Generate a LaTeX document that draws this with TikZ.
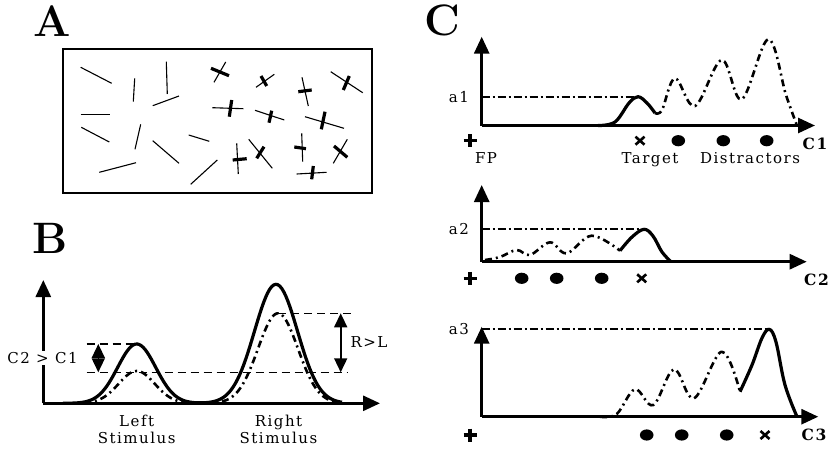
\documentclass[tikz,border=0pt]{standalone}
\usepackage{fontspec}
\newfontfamily\lblfont[LetterSpace=10]{DejaVu Serif}
\usetikzlibrary{arrows.meta, calc}
\definecolor{ink}{HTML}{000000}
\tikzset{
  axis/.style={line width=2.8pt, color=ink, -{Triangle[length=17pt,width=15pt]}},
  bar/.style={line width=1.1pt, color=ink},
  crossbar/.style={line width=3.2pt, color=ink},
  peak/.style={line width=3.2pt, color=ink, line join=round},
  rival/.style={line width=2.6pt, color=ink, dash pattern=on 7pt off 4pt on 2pt off 4pt, line join=round},
  guide/.style={line width=1.2pt, color=ink, dash pattern=on 8pt off 5pt},
  level/.style={line width=1.8pt, color=ink, dash pattern=on 8pt off 3pt on 2pt off 3pt},
  span/.style={line width=1.6pt, color=ink, {Triangle[length=14pt,width=13pt]}-{Triangle[length=14pt,width=13pt]}},
  lbl/.style={font=\lblfont\fontsize{15}{16.5}\selectfont, inner sep=0pt, align=center},
  axlbl/.style={font=\lblfont\bfseries\fontsize{15.5}{16}\selectfont, inner sep=0pt},
  panel/.style={font=\bfseries\fontsize{44}{44}\selectfont, inner sep=0pt, anchor=base},
}
\newcommand\fixmark[1]{\draw[line width=3.4pt] ($(#1)+(-6.5,0)$) -- ($(#1)+(6.5,0)$) ($(#1)+(0,-6.5)$) -- ($(#1)+(0,6.5)$);}
\newcommand\targmark[1]{\draw[line width=2.6pt] ($(#1)+(-4.5,-4)$) -- ($(#1)+(4.5,4)$) ($(#1)+(-4.5,4)$) -- ($(#1)+(4.5,-4)$);}
\newcommand\distmark[1]{\fill (#1) ellipse (6.8 and 5.6);}

\begin{document}
\begin{tikzpicture}[x=1pt,y=-1pt]
\useasboundingbox (0,0) rectangle (831,448);
% panel A
\node[panel] (pa) at (52.2,36) {A};
\draw[line width=1.3pt] (63,49) rectangle (372,193);
\foreach \ax/\ay/\bx/\by in {80.7/67.3/111.7/83.3, 134.7/78.3/133.3/101.7, 166.3/61.7/167.3/94,
  152.7/105.7/179/96, 80.7/114.3/110/114.3, 81.3/127.3/109.3/142, 140.7/124.3/135/149.3,
  152.7/140.7/179/163.3, 188.7/135/209.3/141.3, 99.3/172.3/136/162.7, 190.7/184.3/217.3/160}
  \draw[bar] (\ax,\ay) -- (\bx,\by);
\foreach \ax/\ay/\bx/\by/\cx/\cy/\dx/\dy in {
  214/82.3/225.7/62/211/68.3/229/75.7, 256/87.3/274.3/74.3/261/76/266.7/86,
  302/77.3/308.3/106/298.3/91.7/311.7/90, 330.7/71.7/362.7/92.7/349.3/76/343.3/90,
  212.3/107.7/243.3/108.7/231.7/100/229.3/116.7, 255/110.3/284.3/120/271.7/110.7/269/122.7,
  305/116.7/344/128.3/325/111.7/321.3/129.3, 236.7/143.3/238.3/174/232.7/160/246.7/158.7,
  248.7/139.3/272.3/168.3/264/146.7/256.7/158.3, 301.7/133.3/302.7/161.7/294.3/147/306/148.7,
  347.3/139.3/333.3/163.3/334/146/347.3/157.3, 296.7/174/326.7/172.3/313.3/166/311.7/179.3}
  {\draw[bar] (\ax,\ay) -- (\bx,\by);
   \draw[crossbar] (\cx,\cy) -- (\dx,\dy);}
% panel B
\node[panel] (pb) at (50,253.3) {B};
\coordinate (ob) at (43.3,403.3);
\draw[axis] (ob) -- (43.3,280);
\draw[axis] (ob) -- (380,403.3);
\draw[guide] (86.7,344) -- (136.7,344);
\draw[guide] (86.7,372.3) -- (348,372.3);
\draw[guide] (278,313.3) -- (351.7,313.3);
\draw[peak] plot[domain=63:342, samples=140]
  (\x, {403.3-59.3*exp(-0.5*((\x-136.7)/19)^2)-119*exp(-0.5*((\x-276)/21.5)^2)});
\draw[rival] plot[domain=84:188, samples=60] (\x, {403.3-32.3*exp(-0.5*((\x-136.7)/18)^2)});
\draw[rival] plot[domain=222:336, samples=70] (\x, {403.3-90*exp(-0.5*((\x-278)/20)^2)});
\coordinate (lt) at (98.3,344); \coordinate (lb) at (98.3,372.3);
\coordinate (rt) at (340.7,313.3); \coordinate (rb) at (340.7,372.3);
\draw[span] (lt) -- (lb);
\draw[span] (rt) -- (rb);
\node[lbl, fill=white, inner sep=1pt] (cc) at (42.5,358) {C2 > C1};
\node[lbl] (rl) at (369,341.7) {R>L};
\node[lbl, anchor=north] (ls) at (136.7,415) {Left\\Stimulus};
\node[lbl, anchor=north] (rs) at (278.5,415) {Right\\Stimulus};
% panel C
\node[panel] (pc) at (442.5,35.5) {C};
% C1
\coordinate (o1) at (481.7,125.5);
\draw[axis] (o1) -- (481.7,36.7);
\draw[axis] (o1) -- (815,125.5);
\draw[level] (o1|-0,96.7) -- (638,96.7);
\draw[peak] plot[smooth, tension=0.6] coordinates {(598,125.5) (615,122) (629,103) (638,96.7) (647,103) (655,113)};
\draw[rival] plot[smooth, tension=0.6] coordinates {(655,113) (662,110) (675,78.3) (695,106) (721.7,60) (741.7,99.3) (768.3,39.3) (786,95) (797,125.5)};
\node[lbl, anchor=east] (a1) at (469,96.7) {a1};
\fixmark{470,140.7}
\targmark{640,140.7}
\distmark{678.3,140.7} \distmark{723.3,140.7} \distmark{766.7,140.7}
\node[axlbl, anchor=base] (c1) at (815,149) {C1};
\node[lbl, anchor=base] (fp) at (486,163) {FP};
\node[lbl, anchor=base] (tg) at (650,163) {Target};
\node[lbl, anchor=base] (ds) at (750,163) {Distractors};
% C2
\coordinate (o2) at (481.7,261.7);
\draw[axis] (o2) -- (481.7,185);
\draw[axis] (o2) -- (806.7,261.7);
\draw[level] (o2|-0,229.3) -- (644,229.3);
\draw[rival] plot[smooth, tension=0.6] coordinates {(485,260) (500,257) (516.7,250) (530,255) (550,242.3) (566.7,253.3) (591.7,235.7) (620,250.7)};
\draw[peak] plot[smooth, tension=0.6] coordinates {(620,250.7) (632,237) (644,229.3) (653,236) (662,252) (671,261.7)};
\node[lbl, anchor=east] (a2) at (469,229.3) {a2};
\fixmark{470,278.3}
\distmark{521.7,278.3} \distmark{556.7,278.3} \distmark{601.7,278.3}
\targmark{641.7,278.3}
\node[axlbl] (c2) at (816.5,280) {C2};
% C3
\coordinate (o3) at (481.7,416.7);
\draw[axis] (o3) -- (481.7,326.7);
\draw[axis] (o3) -- (818.3,416.7);
\draw[level] (o3|-0,329.3) -- (769.3,329.3);
\draw[rival] plot[smooth, tension=0.6] coordinates {(600,416.7) (616.7,414) (635,389.3) (653.3,405) (674,369.3) (694,398.3) (721.7,351.7) (740,391.7)};
\draw[peak] plot[smooth, tension=0.6] coordinates {(740,391.7) (752,365) (762,338) (769.3,329.3) (776,342) (785,385) (797,416.7)};
\node[lbl, anchor=east] (a3) at (469,329.3) {a3};
\fixmark{470,435}
\distmark{646.7,435} \distmark{681.7,435} \distmark{726.7,435}
\targmark{765,435}
\node[axlbl] (c3) at (814,435) {C3};
\end{tikzpicture}
\end{document}
